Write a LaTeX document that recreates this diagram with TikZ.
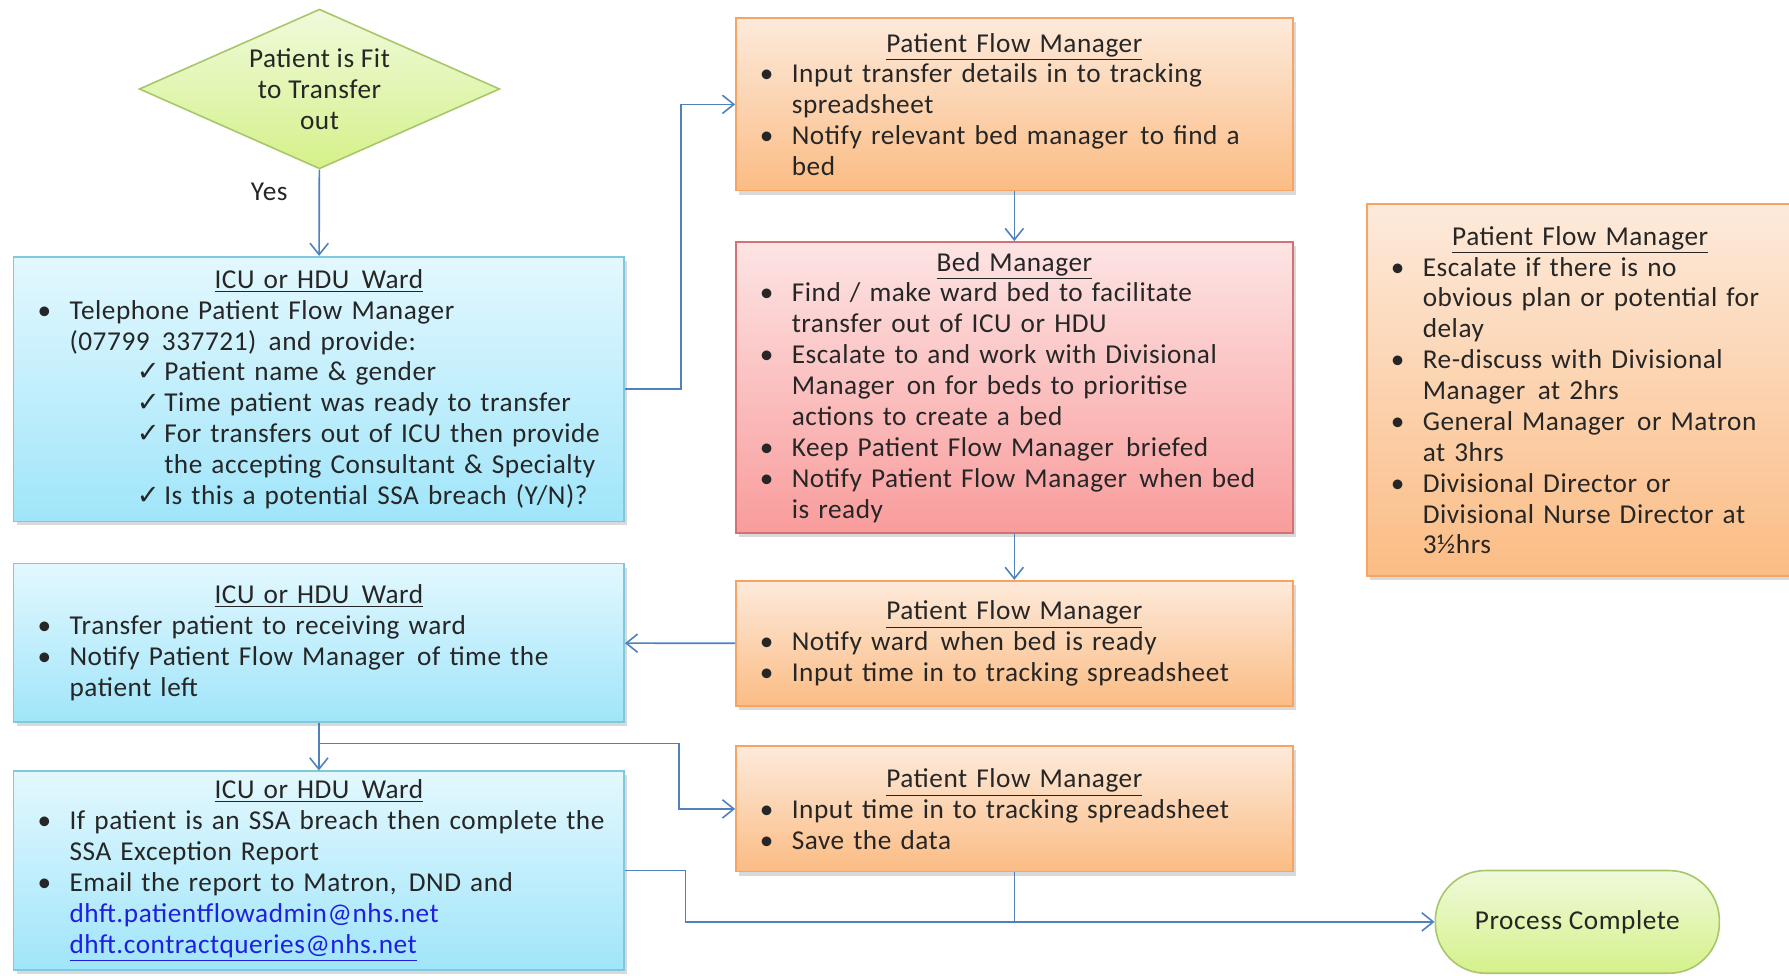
\documentclass[tikz,border=0pt]{standalone}
\usepackage{fontspec}
\setmainfont{Carlito}[LetterSpace=2]
\newfontfamily\symfont{DejaVu Sans}
\usetikzlibrary{shapes.geometric, arrows.meta, shadows}

\definecolor{linkblue}{HTML}{4F81BD}
\definecolor{wardtop}{HTML}{E3F8FE}
\definecolor{wardbot}{HTML}{A0E5FA}
\definecolor{wardline}{HTML}{7FC8DD}
\definecolor{flowtop}{HTML}{FDEADB}
\definecolor{flowbot}{HTML}{FBBC84}
\definecolor{flowline}{HTML}{F7A462}
\definecolor{bedtop}{HTML}{FDE4E4}
\definecolor{bedbot}{HTML}{F99C9C}
\definecolor{bedline}{HTML}{D27272}
\definecolor{gotop}{HTML}{EFFADB}
\definecolor{gobot}{HTML}{D5F18A}
\definecolor{goline}{HTML}{A8C76A}
\definecolor{mailblue}{HTML}{1F1FE0}

% list helpers for the box texts
\newcommand{\bul}{\makebox[0.56cm][l]{\textbullet}}
\newcommand{\cnt}{\hspace*{0.56cm}}
\newcommand{\tick}{\hspace*{1.74cm}\makebox[0.48cm][l]{\symfont ✓}}
\newcommand{\tcnt}{\hspace*{2.22cm}}
\newcommand{\gap}{\hspace{0.45em}}
\newcommand{\boxtitle}[1]{\hspace*{-0.32cm}\makebox[\hsize]{\underline{#1}}}

\tikzset{>={Straight Barb[length=2mm,width=3.2mm]}}

\begin{document}
\begin{tikzpicture}[
    txt/.style={font=\fontsize{13.6}{15.4}\selectfont, text=black!85},
    card/.style={txt, rectangle, line width=0.8pt, align=left, inner xsep=0.1cm,
      execute at begin node={\leftskip=0.32cm\hyphenpenalty=10000},
      drop shadow={shadow xshift=0.05cm, shadow yshift=-0.07cm, opacity=0.3}},
    ward/.style={card, draw=wardline, top color=wardtop, bottom color=wardbot,
      minimum width=10.7cm, text width=10.5cm},
    flow/.style={card, draw=flowline, top color=flowtop, bottom color=flowbot,
      minimum width=9.76cm, text width=9.56cm},
    bed/.style={card, draw=bedline, top color=bedtop, bottom color=bedbot,
      minimum width=9.76cm, text width=9.56cm},
    link/.style={draw=linkblue, line width=0.8pt}
  ]
  \useasboundingbox (0,0) rectangle (31.36,-17.1);

  % decision and end point
  \node[txt, diamond, aspect=2.26, draw=goline, line width=0.8pt, top color=gotop,
    bottom color=gobot, minimum width=6.32cm, minimum height=2.8cm, inner sep=0pt,
    align=center] (fit) at (5.6,-1.56) {Patient is Fit\\to Transfer\\out};
  \node[txt] (yes) at (4.72,-3.36) {Yes};
  \node[txt, draw=goline, line width=0.8pt, top color=gotop, bottom color=gobot,
    rounded corners=0.88cm, minimum width=4.98cm, minimum height=1.8cm]
    (done) at (27.65,-16.16) {Process Complete};

  % ward column
  \node[ward, minimum height=4.64cm] (icuA) at (5.59,-6.82) {%
    \boxtitle{ICU or HDU\gap Ward}\\
    \bul Telephone Patient Flow Manager\\
    \cnt (07799\gap 337721)\gap and provide:\\
    \tick Patient name \& gender\\
    \tick Time patient was ready to transfer\\
    \tick For transfers out of ICU then provide\\
    \tcnt the accepting Consultant \& Specialty\\
    \tick Is this a potential SSA breach (Y/N)?};
  \node[ward, minimum height=2.78cm] (icuB) at (5.59,-11.27) {%
    \boxtitle{ICU or HDU\gap Ward}\\
    \bul Transfer patient to receiving ward\\
    \bul Notify Patient Flow Manager\gap of time the\\
    \cnt patient left};
  \node[ward, minimum height=3.48cm] (icuC) at (5.59,-15.26) {%
    \boxtitle{ICU or HDU\gap Ward}\\
    \bul If patient is an SSA breach then complete the\\
    \cnt SSA Exception Report\\
    \bul Email the report to Matron,\gap DND and\\
    \cnt {\color{mailblue}dhft.patientflowadmin@nhs.net}\\
    \cnt {\color{mailblue}\underline{dhft.contractqueries@nhs.net}}};

  % patient flow manager and bed manager column
  \node[flow, minimum height=3.02cm] (pfmA) at (17.78,-1.83) {%
    \boxtitle{Patient Flow Manager}\\
    \bul Input transfer details in to tracking\\
    \cnt spreadsheet\\
    \bul Notify relevant bed manager\gap to find a\\
    \cnt bed};
  \node[bed, minimum height=5.1cm] (bedM) at (17.78,-6.79) {%
    \boxtitle{Bed Manager}\\
    \bul Find / make ward bed to facilitate\\
    \cnt transfer out of ICU or HDU\\
    \bul Escalate to and work with Divisional\\
    \cnt Manager\gap on for beds to prioritise\\
    \cnt actions to create a bed\\
    \bul Keep Patient Flow Manager\gap briefed\\
    \bul Notify Patient Flow Manager\gap when bed\\
    \cnt is ready};
  \node[flow, minimum height=2.2cm] (pfmB) at (17.78,-11.28) {%
    \boxtitle{Patient Flow Manager}\\
    \bul Notify ward\gap when bed is ready\\
    \bul Input time in to tracking spreadsheet};
  \node[flow, minimum height=2.2cm] (pfmC) at (17.78,-14.18) {%
    \boxtitle{Patient Flow Manager}\\
    \bul Input time in to tracking spreadsheet\\
    \bul Save the data};

  % escalation
  \node[flow, minimum width=7.48cm, text width=7.28cm, minimum height=6.52cm]
    (pfmD) at (27.7,-6.84) {%
    \boxtitle{Patient Flow Manager}\\
    \bul Escalate if there is no\\
    \cnt obvious plan or potential for\\
    \cnt delay\\
    \bul Re-discuss with Divisional\\
    \cnt Manager\gap at 2hrs\\
    \bul General Manager\gap or Matron\\
    \cnt at 3hrs\\
    \bul Divisional Director or\\
    \cnt Divisional Nurse Director at\\
    \cnt 3½hrs};

  % connectors
  \draw[link,->] (fit) -- (icuA);
  \draw[link,->] (icuA.east) -- ++(0.98,0) |- (pfmA.west);
  \draw[link,->] (pfmA) -- (bedM);
  \draw[link,->] (bedM) -- (pfmB);
  \draw[link,->] (pfmB) -- (icuB);
  \draw[link,->] (icuB) -- (icuC);
  \coordinate (split) at ([yshift=-0.36cm]icuB.south);
  \draw[link,->] (split) -| ([xshift=-0.98cm]pfmC.west) -- (pfmC.west);
  \draw[link,->] (icuC.east) -- ++(1.06,0) |- (done.west);
  \draw[link] (pfmC.south) -- (pfmC.south |- done.west);
\end{tikzpicture}
\end{document}
